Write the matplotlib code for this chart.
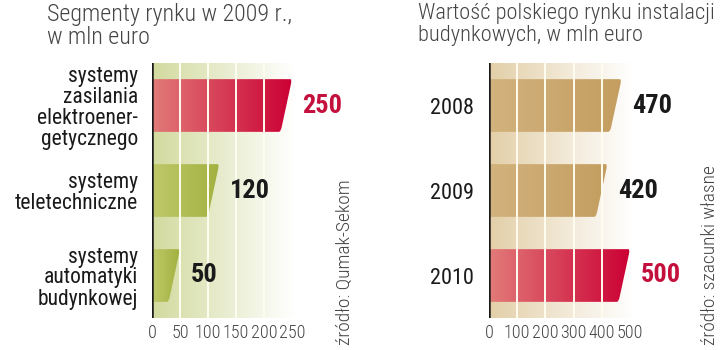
import numpy as np
import matplotlib
matplotlib.use('Agg')
import matplotlib.pyplot as plt
from matplotlib.colors import LinearSegmentedColormap
from matplotlib.path import Path
from matplotlib.patches import PathPatch

# data
seg_labels = ['systemy\nzasilania\nelektroener-\ngetycznego', 'systemy\nteletechniczne', 'systemy\nautomatyki\nbudynkowej']
seg_values = [250, 120, 50]
seg_ticks = [0, 50, 100, 150, 200, 250]

years = ['2008', '2009', '2010']
market_values = [470, 420, 500]
market_ticks = [0, 100, 200, 300, 400, 500]

RED = ('#e27b79', '#cb0034')
GREEN = ('#bfc96a', '#a2b13f')
TAN = ('#d2b27e', '#c49e60')
TXT = '#444444'
COND = ['Roboto Condensed', 'Roboto', 'DejaVu Sans']
LIGHT = {'family': COND, 'weight': 'light'}
BOLD = {'family': COND, 'weight': 'bold'}


def hgrad(ax, x0, x1, y0, y1, c0, c1, clip=None, z=1):
    cm = LinearSegmentedColormap.from_list('g', [c0, c1])
    im = ax.imshow(np.linspace(0, 1, 256).reshape(1, -1), cmap=cm, aspect='auto',
                   extent=(x0, x1, y1, y0), zorder=z, interpolation='bilinear')
    if clip is not None:
        im.set_clip_path(clip)
    return im


def bar_shape(v, yc, h, xmax):
    s = 0.075 * xmax      # slant of the bar end
    rx = 0.012 * xmax
    ry = 0.06
    top, bot = yc - h / 2, yc + h / 2
    t = ry / h
    verts = [(0, top), (v - rx, top), (v, top), (v - s * t, top + ry),
             (v - s * (1 - t), bot - ry), (v - s, bot), (v - s - rx, bot),
             (0, bot), (0, top)]
    codes = [Path.MOVETO, Path.LINETO, Path.CURVE3, Path.CURVE3,
             Path.LINETO, Path.CURVE3, Path.CURVE3, Path.LINETO, Path.CLOSEPOLY]
    return Path(verts, codes)


def panel(ax, labels, values, ticks, xmax, bg, colors, val_colors, fade_at, pad, lab_size):
    n = len(values)
    h = 0.62
    # background fading to white
    hgrad(ax, 0, fade_at, -0.5, n - 0.5, bg, '#ffffff', z=0)
    for i, v in enumerate(values):
        patch = PathPatch(bar_shape(v, i, h, xmax), facecolor='none', edgecolor='none', zorder=2)
        ax.add_patch(patch)
        hgrad(ax, 0, v, i - h / 2, i + h / 2, colors[i][0], colors[i][1], clip=patch, z=2)
        ax.annotate(str(v), (v, i), xytext=(7.5, 0), textcoords='offset points',
                    ha='left', va='center', fontsize=19, color=val_colors[i],
                    annotation_clip=False, zorder=6, **BOLD)
    for t in ticks[1:-1]:
        ax.axvline(t, color='#fffdf0', lw=1.4, zorder=3)
    ax.axvline(0, color='#1a1a1a', lw=1.8, zorder=4)
    ax.set_xlim(0, xmax)
    ax.set_ylim(n - 0.5, -0.5)
    ax.set_xticks(ticks)
    ax.set_xticklabels([str(t) for t in ticks], fontsize=13, color=TXT, **LIGHT)
    ax.set_yticks(range(n))
    ax.set_yticklabels(labels, fontsize=lab_size, color='#1a1a1a', linespacing=1.0,
                       family=COND)
    ax.tick_params(length=0)
    ax.tick_params(axis='y', pad=pad)
    ax.tick_params(axis='x', pad=4)
    for sp in ax.spines.values():
        sp.set_visible(False)


fig = plt.figure(figsize=(7.2, 3.5), dpi=100)
W, H = 720, 350

ax1 = fig.add_axes([152 / W, (H - 318) / H, 270 * 0.56 / W, 255 / H])
panel(ax1, seg_labels, seg_values, seg_ticks, 270, '#d2da9e',
      [RED, GREEN, GREEN], ['#c4103c', '#1a1a1a', '#1a1a1a'], 255, 10, 15.5)

ax2 = fig.add_axes([489 / W, (H - 318) / H, 540 * 0.282 / W, 255 / H])
panel(ax2, years, market_values, market_ticks, 540, '#e3cfa8',
      [TAN, TAN, RED], ['#1a1a1a', '#1a1a1a', '#c4103c'], 510, 11, 16)

fig.text(47 / W, 1 - 3 / H, 'Segmenty rynku w 2009 r.,\nw mln euro', ha='left', va='top',
         fontsize=17.3, color=TXT, linespacing=1.02, **LIGHT)
fig.text(418 / W, 1 - 3 / H, 'Wartość polskiego rynku instalacji\nbudynkowych, w mln euro', ha='left',
         va='top', fontsize=16.2, color=TXT, linespacing=1.08, **LIGHT)

fig.text(345 / W, 1 - 345 / H, 'źródło: Qumak-Sekom', rotation=90, ha='center', va='bottom',
         fontsize=14, color=TXT, **LIGHT)
fig.text(710 / W, 1 - 345 / H, 'źródło: szacunki własne', rotation=90, ha='center', va='bottom',
         fontsize=14, color=TXT, **LIGHT)

fig.savefig('out.png', dpi=100)
